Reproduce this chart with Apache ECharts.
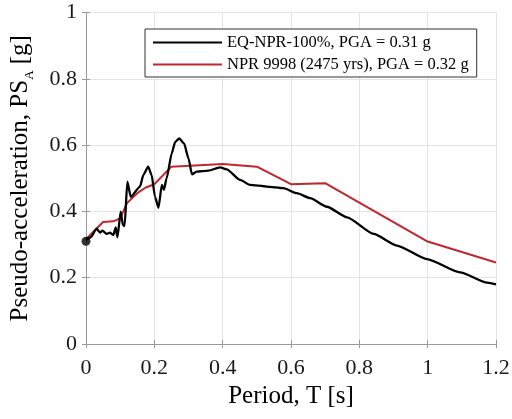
<!DOCTYPE html>
<html style="height: 100%">
<head>
  <meta charset="utf-8">
  <title>Pseudo-acceleration spectra</title>
</head>
<body style="height: 100%; margin: 0; background: #fff">
<div id="container" style="width: 512px; height: 419px"></div>

<script type="text/javascript" src="https://cdn.jsdelivr.net/npm/echarts@6/dist/echarts.min.js"></script>
<script type="text/javascript">
  // EQ-NPR-100% record spectrum (black)
  var periodsEq = [0, 0.014, 0.031, 0.041, 0.048, 0.061, 0.070, 0.080, 0.087, 0.092, 0.1015, 0.108, 0.113, 0.121, 0.131,
    0.158, 0.168, 0.182, 0.192, 0.202, 0.212, 0.222, 0.228, 0.236, 0.251, 0.261, 0.273, 0.287, 0.30, 0.31, 0.324,
    0.358, 0.392, 0.412, 0.451, 0.48, 0.529, 0.578, 0.617, 0.656, 0.705, 0.764, 0.842, 0.910, 0.998, 1.095, 1.174, 1.2];
  var psaEq = [0.314, 0.322, 0.348, 0.336, 0.342, 0.332, 0.336, 0.329, 0.352, 0.322, 0.399, 0.359, 0.356, 0.49, 0.444,
    0.475, 0.51, 0.535, 0.51, 0.444, 0.411, 0.48, 0.465, 0.50, 0.575, 0.61, 0.62, 0.605, 0.56, 0.512, 0.52,
    0.523, 0.533, 0.527, 0.495, 0.48, 0.475, 0.47, 0.455, 0.44, 0.414, 0.382, 0.332, 0.297, 0.256, 0.216, 0.185, 0.18];

  // NPR 9998 design spectrum (red)
  var periodsNpr = [0, 0.05, 0.08, 0.1, 0.12, 0.15, 0.175, 0.2, 0.25, 0.4, 0.5, 0.6, 0.7, 1.0, 1.2];
  var psaNpr = [0.316, 0.368, 0.37, 0.379, 0.425, 0.455, 0.472, 0.482, 0.535, 0.543, 0.535, 0.482, 0.485, 0.309, 0.246];

  var pgaPoint = [0, 0.31];

  var seriesNames = ['EQ-NPR-100%, PGA = 0.31 g', 'NPR 9998 (2475 yrs), PGA = 0.32 g'];
  var xTicks = { min: 0, max: 1.2, interval: 0.2 };
  var yTicks = { min: 0, max: 1, interval: 0.2 };

  function pairs(xs, ys) {
    return xs.map(function (x, i) { return [x, ys[i]]; });
  }

  var font = 'Liberation Serif';
  var axisGray = '#9a9a9a';

  var dom = document.getElementById('container');
  var myChart = echarts.init(dom, null, { renderer: 'canvas' });

  var option = {
    animation: false,
    backgroundColor: '#fff',
    grid: {
      left: 86, right: 16, top: 12.5, bottom: 75,
      outerBoundsMode: 'none'
    },
    legend: {
      data: seriesNames.map(function (n) { return { name: n, icon: 'rect' }; }),
      orient: 'vertical',
      left: 145,
      top: 29,
      itemWidth: 69,
      itemHeight: 2,
      itemGap: 5,
      padding: [5, 8, 4, 8],
      borderColor: '#333',
      borderWidth: 1,
      backgroundColor: '#fff',
      textStyle: { fontFamily: font, fontSize: 16.5, color: '#000' }
    },
    xAxis: [{
      type: 'value',
      min: xTicks.min, max: xTicks.max, interval: xTicks.interval,
      name: 'Period, T [s]',
      nameLocation: 'middle',
      nameGap: 37,
      nameTextStyle: { fontFamily: font, fontSize: 25, color: '#000' },
      axisLine: { show: true, lineStyle: { color: axisGray } },
      axisTick: { show: true, inside: true, length: 4, lineStyle: { color: axisGray } },
      axisLabel: { fontFamily: font, fontSize: 22, color: '#1a1a1a', margin: 13 },
      splitLine: { show: true, lineStyle: { color: '#e4e4e4' } }
    }, {
      type: 'value', position: 'top',
      min: xTicks.min, max: xTicks.max, interval: xTicks.interval,
      axisLine: { show: true, lineStyle: { color: axisGray } },
      axisTick: { show: true, inside: true, length: 4, lineStyle: { color: axisGray } },
      axisLabel: { show: false },
      splitLine: { show: false }
    }],
    yAxis: [{
      type: 'value',
      min: yTicks.min, max: yTicks.max, interval: yTicks.interval,
      name: 'Pseudo-acceleration, PS{sub|A} [g]',
      nameLocation: 'middle',
      nameGap: 50,
      nameTextStyle: {
        fontFamily: font, fontSize: 25, color: '#000', lineHeight: 32,
        rich: { sub: { fontFamily: font, fontSize: 13, color: '#000', verticalAlign: 'bottom' } }
      },
      axisLine: { show: true, lineStyle: { color: axisGray } },
      axisTick: { show: true, inside: true, length: 4, lineStyle: { color: axisGray } },
      axisLabel: { fontFamily: font, fontSize: 22, color: '#1a1a1a', margin: 9 },
      splitLine: { show: true, lineStyle: { color: '#e4e4e4' } }
    }, {
      type: 'value', position: 'right',
      min: yTicks.min, max: yTicks.max, interval: yTicks.interval,
      axisLine: { show: true, lineStyle: { color: axisGray } },
      axisTick: { show: true, inside: true, length: 4, lineStyle: { color: axisGray } },
      axisLabel: { show: false },
      splitLine: { show: false }
    }],
    series: [
      {
        name: seriesNames[0],
        type: 'line',
        data: pairs(periodsEq, psaEq),
        symbol: 'none',
        smooth: 0.2,
        smoothMonotone: 'x',
        lineStyle: { color: '#000', width: 2.3 },
        itemStyle: { color: '#000' },
        z: 3
      },
      {
        name: seriesNames[1],
        type: 'line',
        data: pairs(periodsNpr, psaNpr),
        symbol: 'none',
        lineStyle: { color: '#c1272d', width: 2 },
        itemStyle: { color: '#c1272d' },
        z: 2
      },
      {
        type: 'scatter',
        data: [pgaPoint],
        symbol: 'circle',
        symbolSize: 9,
        itemStyle: { color: '#000' },
        z: 4
      }
    ]
  };

  myChart.setOption(option);
</script>
</body>
</html>
